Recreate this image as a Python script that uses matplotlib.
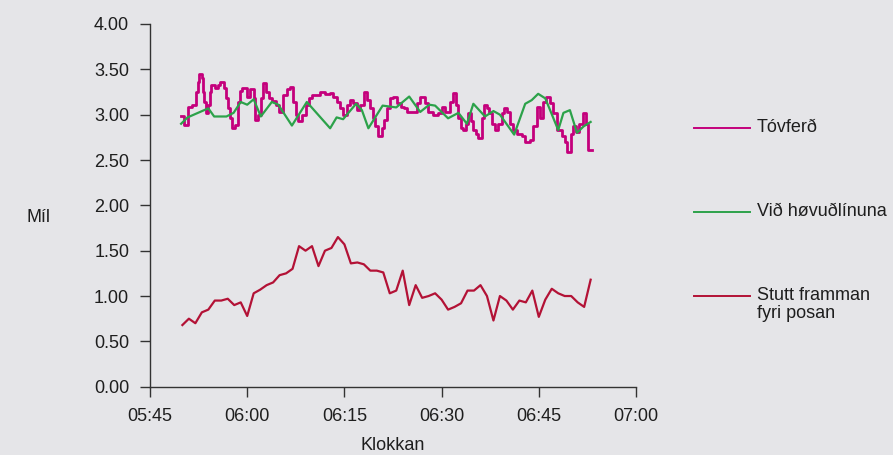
import numpy as np
import pandas as pd
import matplotlib
matplotlib.use("Agg")
import matplotlib.pyplot as plt
from matplotlib.lines import Line2D

plt.rcParams['font.family'] = ['Liberation Sans', 'DejaVu Sans']

# minutes after 05:45
tick_min = [0, 15, 30, 45, 60, 75]
tick_labels = ['05:45', '06:00', '06:15', '06:30', '06:45', '07:00']

# Stutt framman fyri posan - one value per minute from 05:50
red_start = 5
red_vals = [0.68, 0.75, 0.70, 0.82, 0.85, 0.95, 0.95, 0.97, 0.90, 0.93,
            0.78, 1.03, 1.07, 1.12, 1.15, 1.23, 1.25, 1.30, 1.55, 1.50,
            1.55, 1.33, 1.50, 1.53, 1.65, 1.57, 1.36, 1.37, 1.35, 1.28,
            1.28, 1.26, 1.03, 1.06, 1.28, 0.90, 1.12, 0.98, 1.00, 1.03,
            0.96, 0.85, 0.88, 0.92, 1.06, 1.06, 1.12, 1.00, 0.73, 1.00,
            0.95, 0.85, 0.95, 0.93, 1.06, 0.77, 0.96, 1.08, 1.03, 1.00,
            1.00, 0.93, 0.88, 1.18]

# Við høvuðlínuna
green_min = [4.8, 5.8, 9.0, 9.9, 11.8, 12.9, 14.0, 15.0, 16.0, 17.1,
             18.8, 19.8, 21.9, 24.2, 27.8, 28.8, 29.8, 31.8, 32.7, 33.7,
             35.9, 38.0, 40.0, 41.7, 43.1, 44.0, 46.0, 47.6, 48.9, 49.9,
             51.7, 53.0, 54.0, 56.2, 57.9, 58.9, 59.9, 61.0, 63.0, 63.8,
             64.8, 65.9, 66.9, 68.0]
green_vals = [2.90, 2.97, 3.07, 2.98, 2.98, 3.02, 3.14, 3.11, 3.17, 2.98,
              3.14, 3.11, 2.88, 3.14, 2.85, 2.97, 2.95, 3.12, 3.05, 2.85,
              3.10, 3.08, 3.20, 3.03, 3.11, 3.10, 2.96, 3.02, 2.90, 3.12,
              2.98, 3.04, 3.00, 2.78, 3.12, 3.16, 3.23, 3.18, 2.83, 3.02,
              3.05, 2.80, 2.87, 2.92]

# Tóvferð (step data)
mag_min = [4.78, 5.30, 5.92, 6.43, 7.15, 7.36, 7.56, 7.97, 8.18, 8.38,
           8.59, 9.00, 9.21, 9.41, 10.03, 10.44, 10.85, 11.47, 11.78, 12.09,
           12.29, 12.60, 13.12, 13.63, 13.89, 14.25, 14.92, 15.43, 16.00, 16.20,
           16.72, 17.13, 17.44, 17.95, 18.36, 18.88, 19.40, 19.91, 20.57, 21.09,
           21.60, 22.12, 22.48, 22.79, 23.41, 24.02, 24.54, 25.05, 26.23, 27.01,
           27.78, 28.29, 28.81, 29.32, 29.83, 30.35, 30.86, 31.37, 31.90, 32.41,
           33.02, 33.53, 33.95, 34.37, 34.72, 35.23, 35.76, 36.11, 36.53, 37.04,
           37.55, 38.16, 38.69, 39.20, 39.71, 41.16, 41.67, 42.44, 42.95, 43.72,
           44.49, 45.01, 45.52, 46.30, 46.81, 47.22, 47.58, 47.95, 48.35, 48.77,
           49.12, 49.49, 49.89, 50.31, 50.66, 51.19, 51.54, 51.96, 52.36, 52.73,
           53.24, 53.75, 54.27, 54.63, 55.14, 55.56, 55.97, 56.59, 57.36, 57.87,
           58.64, 59.15, 59.68, 60.19, 60.69, 61.11, 61.73, 62.24, 62.85, 63.53,
           64.04, 64.40, 64.92, 65.28, 65.74, 66.25, 66.87, 67.24, 67.65, 68.21]
mag_vals = [2.98, 2.89, 3.08, 3.11, 3.25, 3.36, 3.45, 3.40, 3.25, 3.14,
            3.02, 3.11, 3.25, 3.33, 3.29, 3.33, 3.36, 3.29, 3.18, 3.07,
            2.96, 2.85, 2.89, 3.14, 3.26, 3.29, 3.20, 3.28, 3.18, 2.94,
            3.00, 3.18, 3.35, 3.25, 3.18, 3.15, 3.11, 3.03, 3.22, 3.28,
            3.31, 3.14, 3.00, 2.93, 3.00, 3.11, 3.18, 3.22, 3.25, 3.23,
            3.24, 3.20, 3.14, 3.07, 3.00, 3.11, 3.16, 3.13, 3.05, 3.11,
            3.25, 3.16, 3.07, 2.96, 2.87, 2.76, 2.85, 2.94, 3.07, 3.18,
            3.20, 3.13, 3.09, 3.07, 3.03, 3.13, 3.20, 3.13, 3.03, 3.00,
            3.02, 3.09, 3.03, 3.14, 3.24, 3.11, 2.96, 2.85, 2.83, 2.90,
            3.02, 2.93, 2.83, 2.79, 2.74, 2.96, 3.11, 3.07, 3.02, 2.90,
            2.83, 2.90, 3.02, 3.07, 3.03, 2.90, 2.83, 2.79, 2.76, 2.70,
            2.72, 2.87, 3.09, 2.96, 3.14, 3.20, 3.13, 3.02, 2.83, 2.76,
            2.70, 2.59, 2.79, 2.87, 2.81, 2.90, 3.02, 2.90, 2.61, 2.61]

c_mag = '#c4007c'
c_green = '#2ca24a'
c_red = '#b31236'
bg = '#e5e5e8'
txt = '#1e1e1e'

fig = plt.figure(figsize=(8.93, 4.55), dpi=100, facecolor=bg)
ax = fig.add_axes([150/893, 1-386.7/455, 486/893, 362.7/455])
ax.set_facecolor(bg)

red_min = red_start + np.arange(len(red_vals))
ax.plot(mag_min, mag_vals, drawstyle='steps-post', color=c_mag, lw=2.0)
ax.plot(green_min, green_vals, color=c_green, lw=1.6)
ax.plot(red_min, red_vals, color=c_red, lw=1.6)

ax.set_xlim(0, 75)
ax.set_ylim(0, 4)
ax.set_xticks(tick_min)
ax.set_xticklabels(tick_labels)
ax.set_yticks(np.arange(0, 4.01, 0.5))
ax.yaxis.set_major_formatter(matplotlib.ticker.FormatStrFormatter('%.2f'))
for s in ['top', 'right']:
    ax.spines[s].set_visible(False)
for s in ['left', 'bottom']:
    ax.spines[s].set_color('#333333')
    ax.spines[s].set_linewidth(1.0)
ax.tick_params(direction='out', length=7, width=1.0, color='#333333',
               labelsize=13, labelcolor=txt, pad=8)

fig.text(27/893, 1-217/455, 'Míl', fontsize=13, color=txt, va='center', ha='left')
fig.text(393/893, 1-446/455, 'Klokkan', fontsize=13, color=txt, va='center', ha='center')

legend = [('Tóvferð', c_mag, 128), ('Við høvuðlínuna', c_green, 212),
          ('Stutt framman\nfyri posan', c_red, 296)]
for label, col, y in legend:
    fig.add_artist(Line2D([694/893, 750/893], [1-y/455, 1-y/455], color=col, lw=1.4))
    fig.text(757/893, 1-(y-9)/455, label, fontsize=13, color=txt, va='top',
             ha='left', linespacing=1.1)

fig.savefig('out.png', dpi=100, facecolor=bg)
